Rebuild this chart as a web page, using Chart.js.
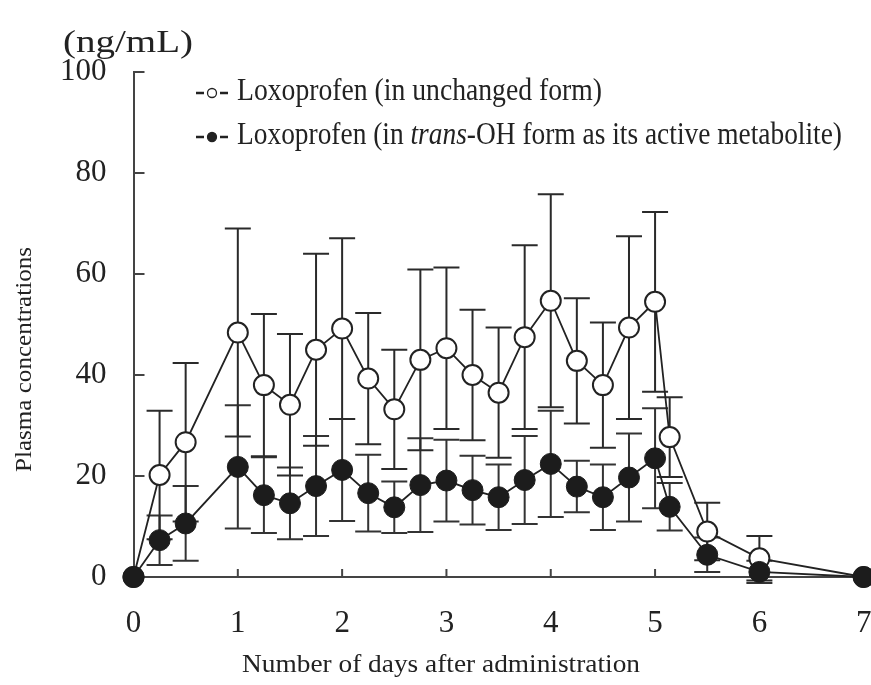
<!DOCTYPE html>
<html lang="en">
<head>
<meta charset="UTF-8">
<title>Loxoprofen plasma concentrations</title>
<script src="https://cdn.jsdelivr.net/npm/chart.js"></script>
<style>
  html, body { margin: 0; padding: 0; background: #fff; }
  .wrap { width: 871px; height: 685px; }
</style>
</head>
<body>
<div class="wrap"><canvas id="plasmaChart" width="871" height="685"></canvas></div>
<script>
// days after administration and plasma concentrations (ng/mL), mean and SD
const days = [0, 0.25, 0.5, 1, 1.25, 1.5, 1.75, 2, 2.25, 2.5, 2.75, 3, 3.25, 3.5, 3.75, 4, 4.25, 4.5, 4.75, 5, 5.14, 5.5, 6, 7];
const unchangedMean = [0, 20.2, 26.7, 48.4, 38.0, 34.1, 45.0, 49.2, 39.3, 33.2, 43.0, 45.3, 40.0, 36.5, 47.5, 54.7, 42.8, 38.0, 49.4, 54.5, 27.7, 9.0, 3.7, 0];
const unchangedSD = [0, 12.7, 15.7, 20.6, 14.1, 14.0, 19.0, 17.9, 13.0, 11.8, 17.9, 16.0, 12.9, 12.9, 18.2, 21.1, 12.4, 12.4, 18.1, 17.8, 7.9, 5.7, 4.4, 0];
const transOHMean = [0, 7.3, 10.6, 21.8, 16.2, 14.6, 18.0, 21.2, 16.6, 13.8, 18.2, 19.1, 17.2, 15.8, 19.2, 22.4, 17.9, 15.8, 19.7, 23.5, 13.9, 4.4, 1.0, 0];
const transOHSD = [0, 4.9, 7.4, 12.2, 7.5, 7.1, 9.9, 10.1, 7.6, 5.1, 9.3, 8.1, 6.8, 6.5, 8.7, 10.5, 5.1, 6.5, 8.7, 9.9, 4.7, 3.4, 2.2, 0];
const xTicks = [0, 1, 2, 3, 4, 5, 6, 7];
const yTicks = [0, 20, 40, 60, 80, 100];

const INK = '#222';
const SERIF = '"Liberation Serif", "DejaVu Serif", serif';

function toPoints(means) {
    return days.map((d, i) => ({ x: d, y: means[i] }));
}

// draws text squeezed/stretched to a given width (the original type is condensed)
function drawFitted(ctx, parts, x, y, width, size) {
    let total = 0;
    parts.forEach(p => {
        ctx.font = (p.italic ? 'italic ' : '') + size + 'px ' + SERIF;
        p.w = ctx.measureText(p.text).width;
        total += p.w;
    });
    const sx = width / total;
    ctx.save();
    ctx.translate(x, y);
    ctx.scale(sx, 1);
    let cx = 0;
    parts.forEach(p => {
        ctx.font = (p.italic ? 'italic ' : '') + size + 'px ' + SERIF;
        ctx.fillText(p.text, cx, 0);
        cx += p.w;
    });
    ctx.restore();
}

const errorBars = {
    id: 'errorBars',
    beforeDatasetsDraw(chart) {
        const { ctx, scales: { x, y } } = chart;
        chart.data.datasets.forEach(ds => {
            ctx.save();
            ctx.strokeStyle = ds.errorColor;
            ctx.lineWidth = 2;
            ds.data.forEach((p, i) => {
                const sd = ds.sd[i];
                if (!sd) return;
                const px = x.getPixelForValue(p.x);
                const top = y.getPixelForValue(p.y + sd);
                const bot = y.getPixelForValue(p.y - sd);
                ctx.beginPath();
                ctx.moveTo(px, top); ctx.lineTo(px, bot);
                ctx.moveTo(px - 13, top); ctx.lineTo(px + 13, top);
                ctx.moveTo(px - 13, bot); ctx.lineTo(px + 13, bot);
                ctx.stroke();
            });
            ctx.restore();
        });
    }
};

// inward tick marks, axis titles and the legend
const decorations = {
    id: 'decorations',
    beforeDatasetsDraw(chart) {
        const { ctx, chartArea: area, scales: { x, y } } = chart;
        ctx.save();
        ctx.strokeStyle = '#444';
        ctx.lineWidth = 2;
        ctx.beginPath();
        y.ticks.forEach(t => {
            const py = y.getPixelForValue(t.value);
            ctx.moveTo(area.left, py); ctx.lineTo(area.left + 11, py);
        });
        x.ticks.forEach(t => {
            const px = x.getPixelForValue(t.value);
            ctx.moveTo(px, area.bottom); ctx.lineTo(px, area.bottom - 8);
        });
        ctx.stroke();
        ctx.restore();
    },
    afterDraw(chart) {
        const ctx = chart.ctx;
        ctx.save();
        ctx.fillStyle = INK;
        ctx.textBaseline = 'middle';

        drawFitted(ctx, [{ text: '(ng/mL)' }], 63, 44, 130, 31);

        // x axis title
        drawFitted(ctx, [{ text: 'Number of days after administration' }], 242, 665, 398, 26);

        // y axis title
        ctx.save();
        ctx.translate(25, 472);
        ctx.rotate(-Math.PI / 2);
        drawFitted(ctx, [{ text: 'Plasma concentrations' }], 0, 0, 225, 24);
        ctx.restore();

        // legend
        const rows = [
            { y: 92, filled: false, parts: [{ text: 'Loxoprofen (in unchanged form)' }], width: 365 },
            { y: 136, filled: true, parts: [
                { text: 'Loxoprofen (in ' },
                { text: 'trans', italic: true },
                { text: '-OH form as its active metabolite)' }
            ], width: 605 }
        ];
        rows.forEach(r => {
            ctx.strokeStyle = INK;
            ctx.lineWidth = 2.5;
            ctx.beginPath();
            ctx.moveTo(196, r.y + 1); ctx.lineTo(204, r.y + 1);
            ctx.moveTo(220, r.y + 1); ctx.lineTo(228, r.y + 1);
            ctx.stroke();
            ctx.lineWidth = 1.3;
            ctx.beginPath();
            ctx.arc(212, r.y + 1, 4.5, 0, Math.PI * 2);
            ctx.fillStyle = r.filled ? INK : '#fff';
            ctx.fill();
            ctx.stroke();
            ctx.fillStyle = INK;
            drawFitted(ctx, r.parts, 237, r.y, r.width, 31);
        });
        ctx.restore();
    }
};

const ctx = document.getElementById('plasmaChart').getContext('2d');
new Chart(ctx, {
    type: 'line',
    data: {
        datasets: [
            {
                label: 'Loxoprofen (in trans-OH form as its active metabolite)',
                data: toPoints(transOHMean),
                sd: transOHSD,
                errorColor: '#333',
                borderColor: INK,
                borderWidth: 1.8,
                pointRadius: 10.5,
                pointBorderWidth: 1,
                pointBackgroundColor: '#1c1c1c',
                pointBorderColor: '#1c1c1c',
                tension: 0,
                clip: false,
                order: 0
            },
            {
                label: 'Loxoprofen (in unchanged form)',
                data: toPoints(unchangedMean),
                sd: unchangedSD,
                errorColor: '#2a2a2a',
                borderColor: INK,
                borderWidth: 1.8,
                pointRadius: 10,
                pointBorderWidth: 2,
                pointBackgroundColor: '#fff',
                pointBorderColor: INK,
                tension: 0,
                clip: false,
                order: 1
            }
        ]
    },
    options: {
        responsive: false,
        animation: false,
        layout: { autoPadding: false, padding: { top: 72, left: 0, right: 0, bottom: 0 } },
        plugins: {
            legend: { display: false },
            tooltip: { enabled: false }
        },
        scales: {
            x: {
                type: 'linear',
                min: 0,
                max: 7.07,
                afterBuildTicks: s => { s.ticks = xTicks.map(v => ({ value: v })); },
                afterFit: s => { s.height = 108; s.paddingLeft = 0; s.paddingRight = 0; },
                grid: { display: false, drawTicks: false },
                border: { display: true, color: '#444', width: 2 },
                ticks: {
                    color: INK,
                    font: { family: SERIF, size: 31 },
                    padding: 28,
                    maxRotation: 0,
                    autoSkip: false
                }
            },
            y: {
                min: 0,
                max: 100,
                afterBuildTicks: s => { s.ticks = yTicks.map(v => ({ value: v })); },
                afterFit: s => { s.width = 133.5; s.paddingTop = 0; s.paddingBottom = 0; },
                grid: { display: false, drawTicks: false },
                border: { display: true, color: '#444', width: 2 },
                ticks: {
                    color: INK,
                    font: { family: SERIF, size: 31 },
                    padding: 27
                }
            }
        }
    },
    plugins: [errorBars, decorations]
});
</script>
</body>
</html>
